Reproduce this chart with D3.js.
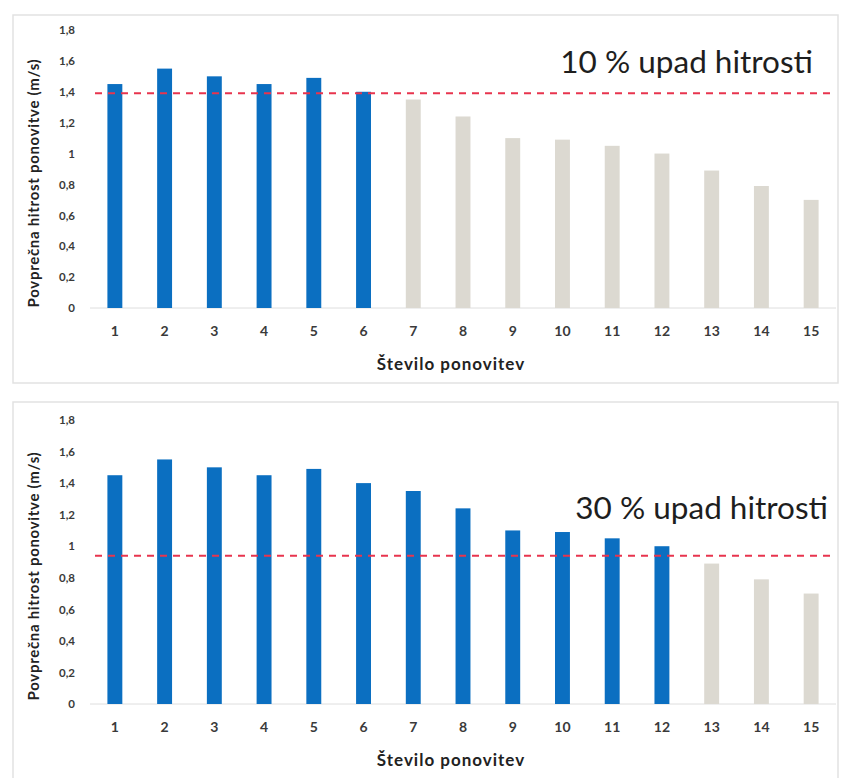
<!DOCTYPE html>
<html>
<head>
<meta charset="utf-8">
<script src="https://cdn.jsdelivr.net/npm/d3@7/dist/d3.min.js"></script>
<style>
  html, body { margin: 0; padding: 0; background: #fff; }
  svg { display: block; }
</style>
</head>
<body>
<svg id="chart" width="842" height="778"></svg>
<script>
// Repetition numbers and mean repetition velocity (m/s)
const repetitions = [1, 2, 3, 4, 5, 6, 7, 8, 9, 10, 11, 12, 13, 14, 15];
const velocities = [1.45, 1.55, 1.50, 1.45, 1.49, 1.40, 1.35, 1.24, 1.10, 1.09, 1.05, 1.00, 0.89, 0.79, 0.70];
const yTicks = [0, 0.2, 0.4, 0.6, 0.8, 1, 1.2, 1.4, 1.6, 1.8];

// Two scenarios: velocity-loss threshold and how many repetitions are done before it
const panelLabels = ["10 % upad hitrosti", "30 % upad hitrosti"];
const thresholds = [1.39, 0.94];
const completedReps = [6, 12];

const xTitle = "Število ponovitev";
const yTitle = "Povprečna hitrost ponovitve (m/s)";

const BLUE = "#0b6fc1";
const GREY = "#dcd9d1";
const RED = "#e8344e";
const TEXT = "#3a3a3a";
const FONT = "Lato, 'Open Sans', sans-serif";

const svg = d3.select("#chart");

const layouts = [
  { box: [13, 15, 825, 368], y0: 308, y1: 30, label: [813, 73] },
  { box: [13, 402, 825, 390], y0: 704, y1: 420, label: [828, 519] }
];

const fmt = d => d3.format(".1~f")(d).replace(".", ",");

layouts.forEach((L, i) => {
  const g = svg.append("g");

  g.append("rect")
    .attr("x", L.box[0]).attr("y", L.box[1])
    .attr("width", L.box[2]).attr("height", L.box[3])
    .attr("fill", "#fff").attr("stroke", "#e2e2e2").attr("stroke-width", 1.5);

  const x = d3.scaleBand()
    .domain(repetitions)
    .range([90, 836])
    .paddingInner(0.7)
    .paddingOuter(0.35);

  const y = d3.scaleLinear().domain([0, 1.8]).range([L.y0, L.y1]);

  // baseline
  g.append("line")
    .attr("x1", 90).attr("x2", 836)
    .attr("y1", y(0)).attr("y2", y(0))
    .attr("stroke", "#dedede").attr("stroke-width", 1);

  // bars
  g.selectAll("rect.bar")
    .data(repetitions.map((r, k) => ({ r, v: velocities[k] })))
    .join("rect")
    .attr("class", "bar")
    .attr("x", d => x(d.r))
    .attr("width", x.bandwidth())
    .attr("y", d => y(d.v))
    .attr("height", d => y(0) - y(d.v))
    .attr("fill", d => d.r <= completedReps[i] ? BLUE : GREY);

  // threshold
  g.append("line")
    .attr("x1", 95).attr("x2", 834)
    .attr("y1", y(thresholds[i])).attr("y2", y(thresholds[i]))
    .attr("stroke", RED).attr("stroke-width", 2)
    .attr("stroke-dasharray", "7,6");

  // x axis
  const xAxis = g.append("g")
    .attr("transform", `translate(0,${y(0)})`)
    .call(d3.axisBottom(x).tickSize(0).tickPadding(18));
  xAxis.select(".domain").remove();
  xAxis.selectAll("text")
    .attr("font-family", FONT)
    .attr("font-size", 14).attr("font-weight", "bold").attr("fill", TEXT);

  // y axis
  const yAxis = g.append("g")
    .attr("transform", "translate(90,0)")
    .call(d3.axisLeft(y).tickValues(yTicks).tickFormat(fmt).tickSize(0).tickPadding(15));
  yAxis.select(".domain").remove();
  yAxis.selectAll("text")
    .attr("font-family", FONT)
    .attr("font-size", 11.5).attr("font-weight", "bold").attr("fill", TEXT);

  // axis titles
  g.append("text")
    .attr("x", 451).attr("y", y(0) + 62)
    .attr("text-anchor", "middle")
    .attr("font-family", FONT)
    .attr("font-size", 17).attr("letter-spacing", 1)
    .attr("font-weight", "bold").attr("fill", "#222")
    .text(xTitle);

  g.append("text")
    .attr("transform", `translate(39,${(y(0) + y(1.8)) / 2 + 14}) rotate(-90)`)
    .attr("text-anchor", "middle")
    .attr("font-family", FONT)
    .attr("font-size", 15).attr("letter-spacing", 0.7)
    .attr("font-weight", "bold").attr("fill", "#222")
    .text(yTitle);

  // scenario label
  g.append("text")
    .attr("x", L.label[0]).attr("y", L.label[1])
    .attr("text-anchor", "end")
    .attr("font-family", FONT)
    .attr("font-size", 31.5).attr("fill", "#1e1e1e")
    .text(panelLabels[i]);
});
</script>
</body>
</html>
